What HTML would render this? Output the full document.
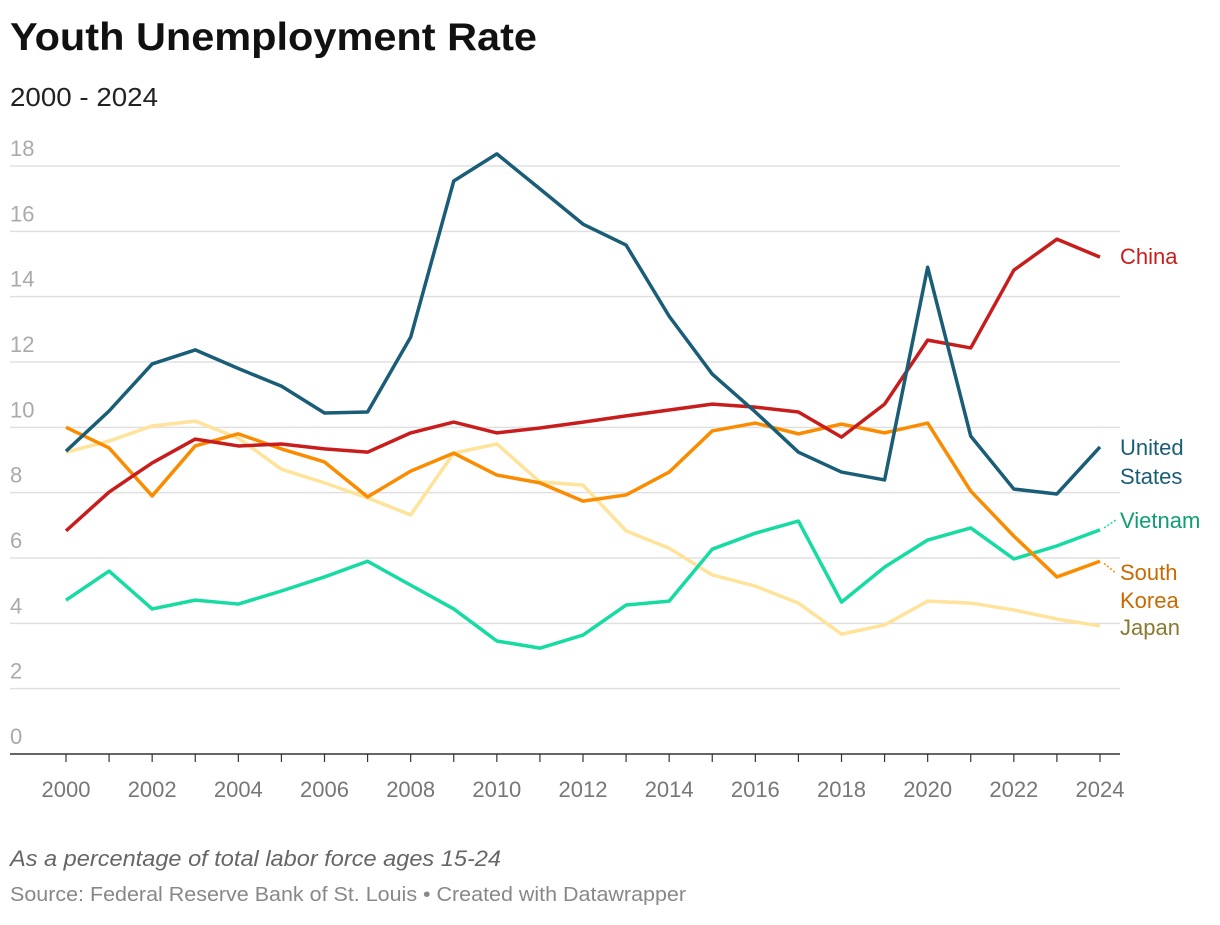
<!DOCTYPE html>
<html><head><meta charset="utf-8"><style>
body{margin:0;background:#fff;font-family:"Liberation Sans",Arial,sans-serif}
</style></head><body>
<svg width="1220" height="920" xmlns="http://www.w3.org/2000/svg">
<text x="10" y="50" font-size="39" font-weight="bold" fill="#111" textLength="527" lengthAdjust="spacingAndGlyphs">Youth Unemployment Rate</text>
<text x="10" y="106" font-size="26" fill="#222" textLength="148" lengthAdjust="spacingAndGlyphs">2000 - 2024</text>
<g id="grid"></g><g id="lines"></g><g id="labels"></g>
<text x="10" y="866" font-size="22" font-style="italic" fill="#666" textLength="491" lengthAdjust="spacingAndGlyphs">As a percentage of total labor force ages 15-24</text>
<text x="10" y="901" font-size="20" fill="#888" textLength="676" lengthAdjust="spacingAndGlyphs">Source: Federal Reserve Bank of St. Louis • Created with Datawrapper</text>
</svg>
<script>
const years=[2000,2001,2002,2003,2004,2005,2006,2007,2008,2009,2010,2011,2012,2013,2014,2015,2016,2017,2018,2019,2020,2021,2022,2023,2024];
const yTicks=[0,2,4,6,8,10,12,14,16,18];
const us=[9.27,10.5,11.94,12.37,11.8,11.26,10.44,10.47,12.76,17.54,18.37,17.3,16.22,15.58,13.4,11.63,10.47,9.24,8.63,8.39,14.9,9.73,8.11,7.96,9.4];
const china=[6.83,8.02,8.91,9.64,9.43,9.49,9.34,9.24,9.83,10.16,9.83,9.98,10.16,10.35,10.53,10.71,10.62,10.47,9.7,10.71,12.67,12.43,14.81,15.76,15.21];
const korea=[10.0,9.37,7.9,9.43,9.8,9.34,8.94,7.87,8.66,9.21,8.54,8.3,7.74,7.93,8.63,9.89,10.13,9.8,10.1,9.83,10.13,8.05,6.67,5.42,5.9];
const japan=[9.24,9.58,10.04,10.19,9.67,8.72,8.3,7.84,7.32,9.21,9.49,8.33,8.23,6.83,6.3,5.48,5.14,4.62,3.67,3.95,4.68,4.62,4.41,4.13,3.92];
const vietnam=[4.71,5.6,4.44,4.71,4.59,4.99,5.42,5.9,5.17,4.44,3.46,3.24,3.64,4.56,4.68,6.27,6.76,7.13,4.65,5.72,6.55,6.92,5.97,6.37,6.86];
const NS="http://www.w3.org/2000/svg";
const X=y=>66+(y-2000)*(1100-66)/24;
const Y=v=>754-v*(754-166)/18;
function mk(tag,at,parent){const e=document.createElementNS(NS,tag);for(const k in at)e.setAttribute(k,at[k]);document.getElementById(parent).appendChild(e);return e;}
yTicks.forEach(t=>{
 if(t>0){const l=mk('line',{x1:10,x2:1120,y1:Y(t),y2:Y(t),stroke:'#e0e0e0','stroke-width':1.5},'grid');
 
 }
 const tx=mk('text',{x:10,y:Y(t)-10,'font-size':22,fill:'#aaa'},'grid');tx.textContent=t;
 
 
});
const ax=mk('line',{x1:10,x2:1120,y1:754,y2:754,stroke:'#333','stroke-width':1.5},'grid');


years.forEach(y=>{
 const tk=mk('line',{x1:X(y),x2:X(y),y1:754,y2:762,stroke:'#333','stroke-width':1.2},'grid');
 
 
 if(y%2===0){const t=mk('text',{x:X(y),y:797,'font-size':22,fill:'#777','text-anchor':'middle'},'grid');t.textContent=y;
 
 }
});
const series=[['japan',japan,'#ffe39a'],['vietnam',vietnam,'#16dba2'],['korea',korea,'#f98c00'],['china',china,'#c71e1d'],['us',us,'#1a5d77']];
series.forEach(([n,d,c])=>{
 const p=mk('polyline',{points:d.map((v,i)=>X(years[i])+','+Y(v)).join(' '),fill:'none',stroke:c,'stroke-width':3.5,'stroke-linejoin':'round'},'lines');
 
 
});
const labs=[['China',['China'],'#c71e1d',china],['United States',['United','States'],'#1a5d77',us],['Vietnam',['Vietnam'],'#0f9e73',vietnam],['South Korea',['South','Korea'],'#c86a00',korea],['Japan',['Japan'],'#8a7a30',japan]];
const ly={'China':[264],'United States':[455,484],'Vietnam':[528],'South Korea':[580,608],'Japan':[635]};
labs.forEach(([n,ls,c])=>{ls.forEach((s,i)=>{const t=mk('text',{x:1120,y:ly[n][i],'font-size':22,fill:c},'labels');t.textContent=s;
 
 });});
const c1=mk('line',{x1:1104,y1:Y(vietnam[24])-2,x2:1116,y2:Y(vietnam[24])-10,stroke:'#16dba2','stroke-width':1.5,'stroke-dasharray':'2,2'},'labels');


const c2=mk('line',{x1:1104,y1:Y(korea[24])+2,x2:1116,y2:Y(korea[24])+12,stroke:'#f98c00','stroke-width':1.5,'stroke-dasharray':'2,2'},'labels');


</script>
</body></html>
